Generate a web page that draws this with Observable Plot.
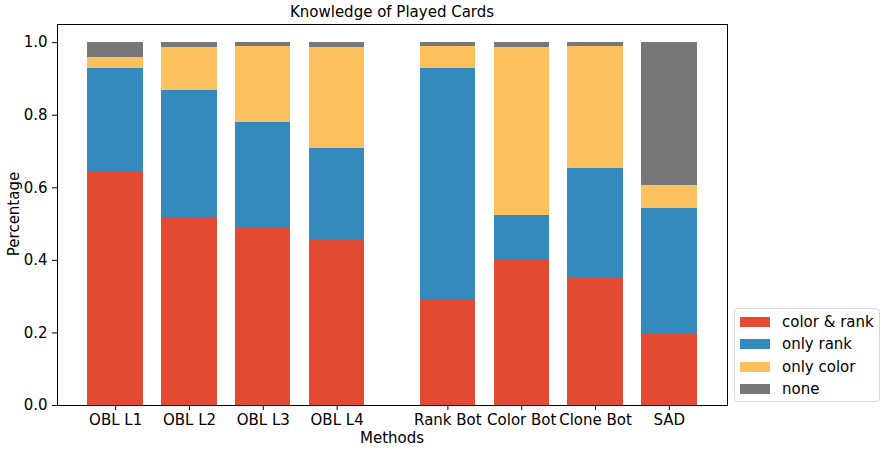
<!DOCTYPE html>
<html>
<head>
<meta charset="utf-8">
<script src="https://cdn.jsdelivr.net/npm/d3@7"></script>
<script src="https://cdn.jsdelivr.net/npm/@observablehq/plot@0.6"></script>
<style>
  html, body { margin: 0; padding: 0; background: #fff; }
  #wrap { position: relative; width: 887px; height: 453px; font-family: "DejaVu Sans", sans-serif; color: #000; }
  #wrap svg { position: absolute; left: 0; top: 0; }
  .lbl { position: absolute; font-size: 15px; white-space: nowrap; line-height: 1; }
  #legend { position: absolute; left: 734px; top: 308px; width: 146px; height: 94px; border: 1px solid #d6d6d6; border-radius: 4px; box-sizing: border-box; background: #fff; }
  .row { position: absolute; left: 0; height: 18px; font-size: 15px; }
  .sw { position: absolute; left: 5px; top: 4px; width: 30px; height: 10px; }
  .tx { position: absolute; left: 47px; top: 0px; line-height: 18px; white-space: nowrap; }
</style>
</head>
<body>
<div id="wrap"></div>
<script>
const categories = ["OBL L1", "OBL L2", "OBL L3", "OBL L4", "Rank Bot", "Color Bot", "Clone Bot", "SAD"];
const seriesNames = ["color & rank", "only rank", "only color", "none"];
const colorRank = [0.645, 0.516, 0.490, 0.456, 0.291, 0.400, 0.351, 0.197];
const onlyRank  = [0.283, 0.352, 0.290, 0.252, 0.637, 0.123, 0.303, 0.346];
const onlyColor = [0.031, 0.118, 0.209, 0.278, 0.061, 0.463, 0.335, 0.063];
const noneVals  = [0.041, 0.014, 0.011, 0.014, 0.011, 0.014, 0.011, 0.394];
const yTicks = [0, 0.2, 0.4, 0.6, 0.8, 1.0];
const seriesColors = ["#E24A33", "#348ABD", "#FBC15E", "#777777"];

const seriesValues = [colorRank, onlyRank, onlyColor, noneVals];
const barWidth = 0.75;
const posOf = i => i + (i >= 4 ? 0.5 : 0);
const positions = categories.map((c, i) => posOf(i));

const wide = categories.map((c, i) => {
  const o = {cat: c, pos: posOf(i)};
  seriesNames.forEach((s, k) => o[s] = seriesValues[k][i]);
  return o;
});
const stacked = d3.stack().keys(seriesNames)(wide);
const rows = [];
stacked.forEach(layer => {
  layer.forEach(seg => {
    rows.push({series: layer.key, x1: seg.data.pos - barWidth / 2, x2: seg.data.pos + barWidth / 2, y1: seg[0], y2: seg[1]});
  });
});

const lo = -barWidth / 2, hi = positions[positions.length - 1] + barWidth / 2;
const m = (hi - lo) * 0.05;

const chart = Plot.plot({
  width: 887,
  height: 453,
  marginLeft: 57,
  marginRight: 160,
  marginTop: 24,
  marginBottom: 48,
  style: {fontFamily: "DejaVu Sans, sans-serif", fontSize: "15px", color: "#000", background: "#fff"},
  x: {type: "linear", domain: [lo - m, hi + m]},
  y: {domain: [0, 1.05]},
  color: {domain: seriesNames, range: seriesColors},
  marks: [
    Plot.rect(rows, {x1: "x1", x2: "x2", y1: "y1", y2: "y2", fill: "series", shapeRendering: "crispEdges"}),
    Plot.axisY({ticks: yTicks, tickFormat: d3.format(".1f"), tickSize: 5, tickPadding: 5, fontSize: 15, label: null, stroke: "#000"}),
    Plot.axisX({ticks: positions, tickFormat: d => categories[positions.indexOf(d)], tickSize: 5, tickPadding: 4, fontSize: 15, label: null, stroke: "#000"}),
    Plot.frame({stroke: "#000", strokeWidth: 1})
  ]
});

const wrap = document.getElementById("wrap");
wrap.appendChild(chart);

function addLabel(text, css) {
  const d = document.createElement("div");
  d.className = "lbl";
  d.textContent = text;
  Object.assign(d.style, css);
  wrap.appendChild(d);
  return d;
}
addLabel("Knowledge of Played Cards", {left: "392px", top: "5px", transform: "translateX(-50%)"});
addLabel("Methods", {left: "392px", top: "431px", transform: "translateX(-50%)"});
addLabel("Percentage", {left: "14px", top: "214px", transform: "translate(-50%, -50%) rotate(-90deg)"});

const legend = document.createElement("div");
legend.id = "legend";
seriesNames.forEach((s, k) => {
  const r = document.createElement("div");
  r.className = "row";
  r.style.top = (4 + k * 22.4) + "px";
  r.style.width = "140px";
  const sw = document.createElement("div");
  sw.className = "sw";
  sw.style.background = seriesColors[k];
  const tx = document.createElement("div");
  tx.className = "tx";
  tx.textContent = s;
  r.appendChild(sw);
  r.appendChild(tx);
  legend.appendChild(r);
});
wrap.appendChild(legend);
</script>
</body>
</html>
